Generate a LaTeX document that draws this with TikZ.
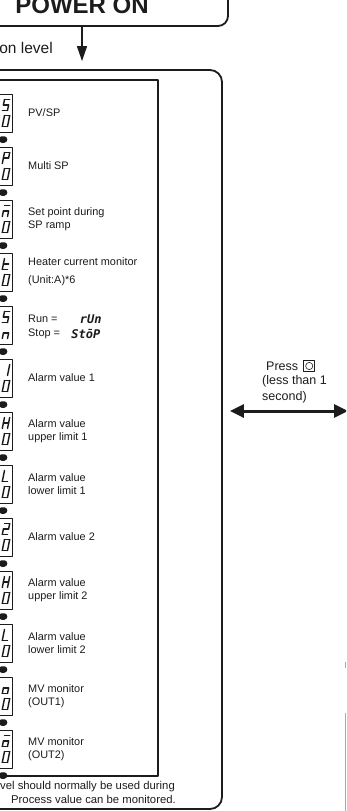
\documentclass[tikz,border=0pt]{standalone}
\usepackage{fontspec}
\setmainfont{Liberation Sans}
\newfontfamily\omsegfont{DejaVu Sans Mono}
\usetikzlibrary{arrows.meta,positioning}
\definecolor{omInk}{HTML}{1C1C1C}
\definecolor{omEdge}{HTML}{A8A8A8}
\tikzset{
  om diagram/.style={x=1pt, y=-1pt, text=omInk, line join=round},
  om frame/.style={draw=omInk, line width=1.8pt, rounded corners=12pt, inner sep=0pt},
  om panel/.style={draw=omInk, line width=1.4pt, inner sep=0pt},
  om display/.style={draw=omInk, line width=1pt, inner sep=0pt,
    minimum width=40pt, minimum height=38pt},
  om key/.style={fill=omInk, rounded corners=3pt, inner sep=0pt,
    minimum width=8.5pt, minimum height=6.5pt},
  om keyicon/.style={draw=omInk, line width=0.8pt, inner sep=0pt, minimum size=11pt,
    path picture={\draw[omInk, line width=0.6pt] (path picture bounding box.center) circle (3.6pt);}},
  om seg/.style={draw=omInk, line width=1.4pt, line cap=round},
  om segtext/.style={font=\omsegfont\bfseries\itshape\fontsize{12}{12}\selectfont,
    inner sep=0pt},
  om label/.style={font=\fontsize{10.9}{13}\selectfont, align=left,
    anchor=west, inner sep=0pt},
  om note/.style={font=\fontsize{11.3}{12.5}\selectfont, inner sep=0pt},
  om hint/.style={font=\fontsize{12.5}{16}\selectfont, inner sep=0pt},
  om arrow/.style={-{Triangle[length=15pt,width=10pt]}, draw=omInk, line width=1.5pt},
  om swap/.style={{Triangle[length=14pt,width=13pt]}-{Triangle[length=14pt,width=13pt]},
    draw=omInk, line width=3pt},
  om edge/.style={draw=omEdge, line width=1pt}
}
\def\omgS{tl/tr,tl/ml,ml/mr,mr/br,bl/br}
\def\omgP{tl/tr,tr/mr,tl/ml,ml/mr,ml/bl}
\def\omgZ{tl/tr,tr/mr,mr/br,bl/br,ml/bl,tl/ml}
\def\omgN{ml/mr,mr/br,ml/bl}
\def\omgM{tl/tr,ml/mr,mr/br,ml/bl}
\def\omgT{tl/ml,ml/bl,bl/br,ml/mr}
\def\omgI{tr/mr,mr/br}
\def\omgH{tl/ml,ml/bl,tr/mr,mr/br,ml/mr}
\def\omgL{tl/ml,ml/bl,bl/br}
\def\omgW{tl/tr,tr/mr,ml/mr,ml/bl,bl/br}
\def\omgO{ml/mr,mr/br,bl/br,ml/bl}
\def\omgQ{tl/tr,ml/mr,mr/br,bl/br,ml/bl}
\newcommand{\omchar}[2]{%
  \edef\omlist{\csname omg#2\endcsname}%
  \begin{scope}[shift={#1}, xslant=0.2]
    \coordinate (tl) at (-2.6,-5.5); \coordinate (tr) at (2.6,-5.5);
    \coordinate (ml) at (-2.6,0);    \coordinate (mr) at (2.6,0);
    \coordinate (bl) at (-2.6,5.5);  \coordinate (br) at (2.6,5.5);
    \foreach \p/\q in \omlist {\draw[om seg] (\p) -- (\q);}
  \end{scope}}

\begin{document}
\begin{tikzpicture}[om diagram]
\useasboundingbox (0,0) rectangle (346,811);
\clip (0,0) rectangle (346,811);
\node[om frame, rounded corners=10pt, minimum width=292pt, minimum height=42pt,
  font=\fontsize{24}{24}\selectfont\bfseries] (power) at (82,5) {POWER ON};
\node[om frame, minimum width=290pt, minimum height=739pt] (oplevel) at (77,439.5) {};
\node[om panel, minimum width=220pt, minimum height=696pt] (menu) at (48,428) {};
\node[font=\fontsize{15.5}{16}\selectfont, anchor=east, inner sep=0pt] (oplabel) at (53,48) {on level};
\draw[om arrow, shorten >=8pt] (power.south) -- (power.south |- oplevel.north);

\foreach \i/\hi/\lo in {1/S/Z,2/P/Z,3/M/Z,4/T/Z,5/S/N,6/I/Z,7/H/Z,8/L/Z,9/W/Z,10/H/Z,11/L/Z,12/O/Z,13/Q/Z}{
  \pgfmathsetmacro\y{113+53*(\i-1)}
  \node[om display] (disp\i) at (-8,\y) {};
  \omchar{(6,\y-8)}{\hi}
  \omchar{(6,\y+8)}{\lo}
  \node[om key] (key\i) at (3,\y+26.5) {};
}
\foreach \i/\txt in {1/{PV/SP},2/{Multi SP},3/{Set point during\\SP ramp},
  4/{Heater current monitor\\[5pt](Unit:A)*6},6/{Alarm value 1},
  7/{Alarm value\\upper limit 1},8/{Alarm value\\lower limit 1},9/{Alarm value 2},
  10/{Alarm value\\upper limit 2},11/{Alarm value\\lower limit 2},
  12/{MV monitor\\(OUT1)},13/{MV monitor\\(OUT2)}}{
  \pgfmathsetmacro\y{113+53*(\i-1)}
  \node[om label] (lab\i) at (28,\y) {\txt};
}
\node[om label] (lab5) at (28,319) {Run =};
\node[om label] (lab5b) at (28,334) {Stop =};
\node[om segtext, right=22pt of lab5] (run) {rUn};
\node[om segtext, right=11pt of lab5b] (stop) {StōP};

\node[om note, anchor=west] (note1) at (0,787) {vel should normally be used during};
\node[om note, anchor=west] (note2) at (11,799) {Process value can be monitored.};

\node[om hint, anchor=west] (press) at (266,366) {Press};
\node[om keyicon, right=5pt of press] (pressicon) {};
\node[om hint, align=left, anchor=north west] (pressnote) at (262,375) {(less than 1\\second)};
\coordinate (nextlevel) at (348,411);
\draw[om swap, shorten <=7pt] (oplevel.east |- nextlevel) -- (nextlevel);

\draw[om edge] (345.5,662) -- (345.5,668);
\draw[om edge] (345.5,713) -- (345.5,811);
\end{tikzpicture}
\end{document}
